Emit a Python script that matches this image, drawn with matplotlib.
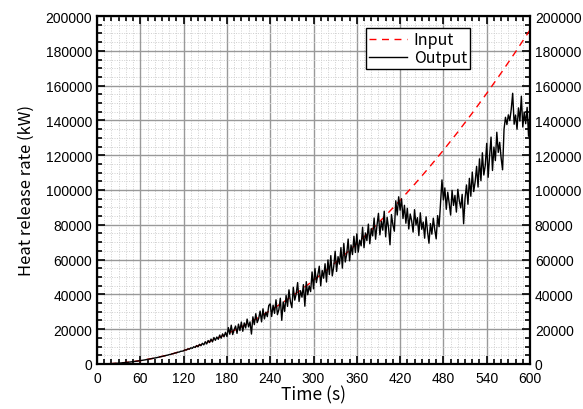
import numpy as np
import matplotlib
matplotlib.use("Agg")
import matplotlib.pyplot as plt
from matplotlib.ticker import MultipleLocator

# input curve (read every 20 s)
t_in = [0, 20, 40, 60, 80, 100, 120, 140, 160, 180, 200, 220, 240, 260, 280, 300,
        320, 340, 360, 380, 400, 420, 440, 460, 480, 500, 520, 540, 560, 580, 600]
q_in = [0, 213, 853, 1920, 3413, 5333, 7680, 10453, 13653, 17280, 21333, 25813,
        30720, 36053, 41813, 48000, 54613, 61653, 69120, 77013, 85333, 94080,
        103253, 112853, 122880, 133333, 144213, 155520, 167253, 179413, 192000]

# measured output (read every 2 s), one row per minute
t_out = np.arange(0, 601, 2)
q_out = [
    0, 2, 9, 19, 34, 53, 77, 105, 137, 173, 213, 258, 307, 361, 418, 480, 546, 617, 691, 770,
    853, 941, 1032, 1128, 1229, 1333, 1442, 1555, 1673, 1794,
    1920, 2050, 2190, 2320, 2470, 2610, 2770, 2920, 3090, 3240, 3420, 3580, 3780, 3930, 4150,
    4310, 4540, 4700, 4950, 5100, 5380, 5520, 5820, 5950, 6300, 6400, 6780, 6850, 7300, 7350,
    7600, 8100, 8050, 8700, 8500, 9300, 9000, 9900, 9500, 10600, 9900, 11300, 10500, 11900, 11000,
    12800, 11500, 13500, 12300, 14300, 12700, 15200, 13600, 15500, 14200, 16600, 14800, 17300, 15600, 18200,
    15800, 20900, 17100, 22300, 16900, 19700, 21800, 17600, 22900, 19200, 24100, 18800, 23600, 20700, 25800,
    21300, 24200, 17200, 27100, 22600, 28900, 23800, 26100, 30400, 24200, 31700, 25900, 29800, 27200, 33600,
    34600, 27300, 33800, 29100, 36900, 28400, 31200, 37800, 25100, 35700, 30200, 39400, 33100, 42600, 35800,
    32400, 44100, 36700, 40300, 46800, 35900, 42100, 38400, 45600, 33200, 47300, 39800, 44900, 41600, 52900,
    43200, 54900, 46800, 51300, 56200, 44900, 53800, 49300, 57600, 47100, 59800, 51400, 62300, 50600, 55900,
    64800, 53200, 61700, 57400, 66900, 55100, 69300, 58600, 63200, 71800, 59300, 68400, 62900, 73400, 64100,
    74800, 64300, 71200, 67900, 78600, 66800, 75300, 70900, 80400, 69100, 77800, 73600, 83900, 71700, 79800,
    86600, 74200, 82100, 76900, 87800, 73100, 84300, 78200, 68500, 85900, 80100, 76300, 93800, 85600, 96100,
    88400, 94900, 83600, 91200, 80900, 89500, 77600, 86200, 82300, 75800, 88700, 79900, 84100, 73800, 86900,
    77400, 81600, 72300, 84600, 76100, 69400, 80700, 74600, 83800, 77200, 71900, 85300, 78900, 92600, 105800,
    94300, 101200, 88900, 98700, 92400, 85600, 99800, 91100, 96900, 87300, 100400, 93800, 89700, 97500, 80600,
    95200, 102900, 91800, 106700, 96400, 110300, 99100, 104800, 113600, 101700, 117900, 105300, 121400, 108600, 114200,
    126800, 107300, 119600, 130400, 111200, 124700, 116900, 133200, 121600, 127400, 118300, 111600, 134900, 141800, 137600,
    143200, 139900, 146400, 155600, 137800, 143100, 134900, 147200, 139600, 153900, 136200, 144800, 138100, 147500, 130900,
    146000,
]

jp = ['Noto Sans CJK JP', 'DejaVu Sans']

fig = plt.figure(figsize=(5.83, 4.10), dpi=100)
ax = fig.add_axes([0.1664, 0.1098, 0.7427, 0.8487])

ax.grid(True, which='minor', color='#cfcfcf', lw=0.7, ls=(0, (1, 1.5)), zorder=0)
ax.grid(True, which='major', color='#999999', lw=1.0, zorder=0.5)
ax.set_axisbelow(True)

ax.plot(t_in, q_in, color='red', ls=(0, (5, 4)), lw=1.0, label='Input', zorder=2)
ax.plot(t_out, q_out, color='black', lw=1.0, label='Output', zorder=3)

ax.set_xlim(0, 600)
ax.set_ylim(0, 200000)
ax.xaxis.set_major_locator(MultipleLocator(60))
ax.xaxis.set_minor_locator(MultipleLocator(10))
ax.yaxis.set_major_locator(MultipleLocator(20000))
ax.yaxis.set_minor_locator(MultipleLocator(5000))
ax.tick_params(which='both', direction='in', top=True, right=True,
               labelright=True, width=1.2, labelsize=10)
ax.tick_params(which='major', length=6)
ax.tick_params(which='minor', length=3.5)
ax.tick_params(axis='x', pad=5)
for lab in ax.get_xticklabels() + ax.get_yticklabels() + ax.yaxis.get_ticklabels():
    lab.set_family('Liberation Sans')
for lab in ax.yaxis.get_majorticklabels():
    lab.set_family('Liberation Sans')
for t in ax.yaxis.get_major_ticks():
    t.label2.set_family('Liberation Sans')
for s in ax.spines.values():
    s.set_linewidth(1.6)

ax.set_xlabel('Time (s)', family=jp, fontsize=12.5, labelpad=0)
ax.set_ylabel('Heat release rate (kW)', family=jp, fontsize=12, labelpad=8)

leg = ax.legend(loc='upper right', bbox_to_anchor=(0.862, 0.965), fancybox=False,
                framealpha=1, edgecolor='black', prop={'family': jp, 'size': 11.5},
                handlelength=2.4, borderpad=0.2, labelspacing=0.05,
                handletextpad=0.4, borderaxespad=0)
leg.get_frame().set_linewidth(1.0)

fig.savefig('out.png', dpi=100)
